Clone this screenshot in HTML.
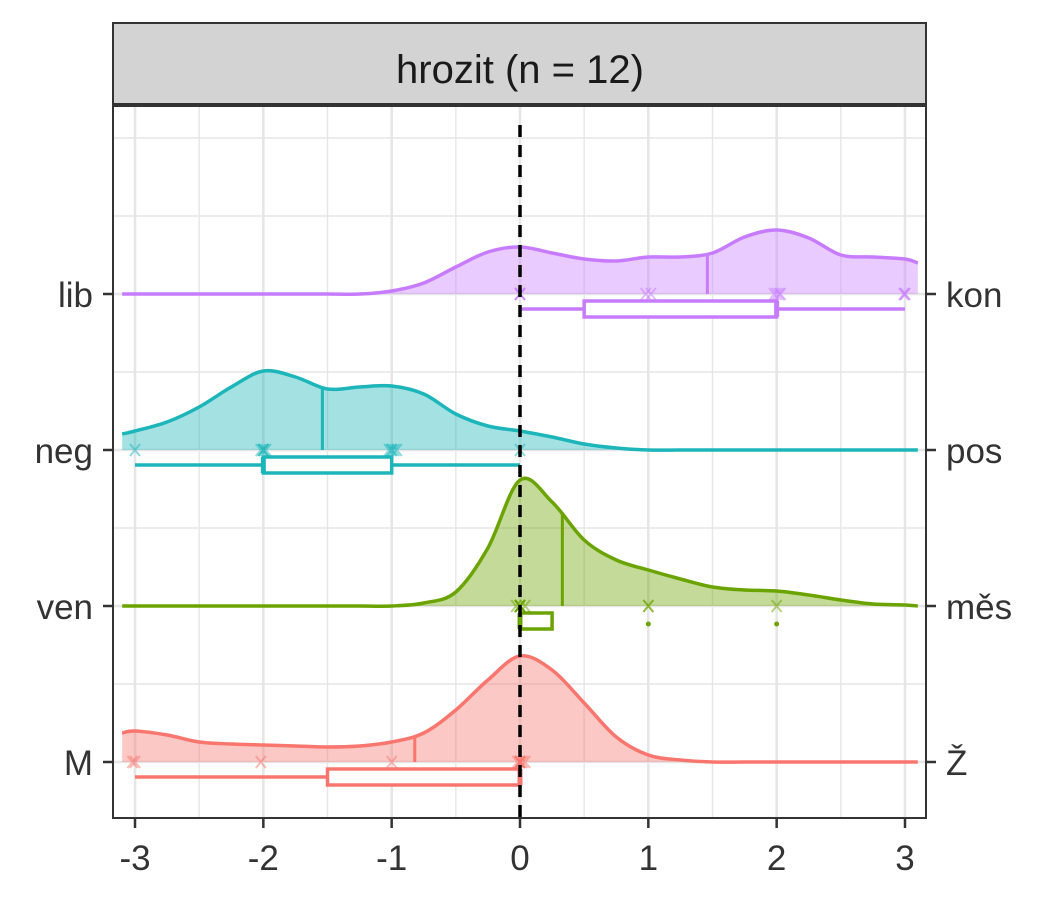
<!DOCTYPE html>
<html><head><meta charset="utf-8"><style>
body{margin:0;background:#fff;}
svg{display:block;font-family:"Liberation Sans",sans-serif;}
</style></head><body>
<svg id="chart" width="1050" height="900" viewBox="0 0 1050 900">
<rect x="113" y="23" width="813" height="81" fill="#d3d3d3" stroke="#333" stroke-width="2"/>
<text x="520" y="83" font-size="40" text-anchor="middle" fill="#1a1a1a">hrozit (n = 12)</text>
<g id="grid"></g>
<g id="marks"></g>
<rect x="113" y="106" width="813" height="712" fill="none" stroke="#333" stroke-width="2"/>
<g id="axes"></g>
</svg>
<script>
const xTicks = [-3,-2,-1,0,1,2,3];
const leftLabels = ["lib","neg","ven","M"];
const rightLabels = ["kon","pos","měs","Ž"];
const seriesColors = ["#C77CFF","#1CB5B9","#6BA300","#F8766D"];
const densGrid = [-3.1,-3,-2.75,-2.5,-2.25,-2,-1.75,-1.5,-1.25,-1,-0.75,-0.5,-0.25,0,0.25,0.5,0.75,1,1.25,1.5,1.75,2,2.25,2.5,2.75,3,3.1];
const densLib = [0,0,0,0,0,0,0,0,0,3,11,27,42,47,41,35,33,37,37,41,57,64,56,39,37,35,31];
const densNeg = [16,19,28,43,63,79,73,61,63,64,56,36,24,19,13,6,2,0,0,0,0,0,0,0,0,0,0];
const densVen = [0,0,0,0,0,0,0,0,0,0,3,14,58,126,104,66,46,36,27,19,16,15,11,6,2,1,0];
const densM = [29,31,27,20,18,17,16,15,16,20,29,52,82,106,92,59,25,7,2,0,0,0,0,0,0,0,0];
const medians = [1.46,-1.54,0.33,-0.82];
const ptsLib = [0,0,0.98,1.02,1.98,2.02,2.03,2,3,2.99,3,0];
const ptsNeg = [-3,-2.02,-2,-1.98,-2,-2,-1.02,-0.98,-1,-0.96,0,-1];
const ptsVen = [-0.03,0,0,0.04,0,0,0,0,1,1,2,0];
const ptsM = [-3.02,-3,-2.02,-1,0,0,0.02,-0.02,0,0.04,0,0];
const boxLo = [0,-3,0,-3];
const boxQ1 = [0.5,-2,0,-1.5];
const boxMed = [2,-2,0,0];
const boxQ3 = [2,-1,0.25,0];
const boxHi = [3,0,0.25,0];
const outliers = [[],[],[1,2],[]];

const NS="http://www.w3.org/2000/svg";
const X = v => 520 + 128.33*v;
const rowY = i => 294 + 156*i;
const DS = 1;
function mk(tag, attrs, parent){const e=document.createElementNS(NS,tag);for(const k in attrs)e.setAttribute(k,attrs[k]);parent.appendChild(e);return e;}
const grid=document.getElementById('grid'), marks=document.getElementById('marks'), axes=document.getElementById('axes');

for(let v=-3;v<=3.01;v+=0.5){
  const major = Math.abs(v-Math.round(v))<1e-6;
  const l=mk('line',{x1:X(v),x2:X(v),y1:106,y2:818,stroke:'#e6e6e6','stroke-width':major?2.6:1.4},grid);
  
  
}
[138,216,372,528,684].forEach(y=>{const l=mk('line',{x1:113,x2:926,y1:y,y2:y,stroke:'#e6e6e6','stroke-width':1.4},grid);
  
  });
for(let i=0;i<4;i++){const l=mk('line',{x1:113,x2:926,y1:rowY(i),y2:rowY(i),stroke:'#e6e6e6','stroke-width':2.6},grid);
  
  }

const dens=[densLib,densNeg,densVen,densM];
const pts=[ptsLib,ptsNeg,ptsVen,ptsM];
const names=["lib","neg","ven","m"];
function smoothPath(p){let d=`M${p[0][0]},${p[0][1]}`;for(let i=0;i<p.length-1;i++){const p0=p[i-1]||p[i],p1=p[i],p2=p[i+1],p3=p[i+2]||p2;
  d+=` C${p1[0]+(p2[0]-p0[0])/6},${p1[1]+(p2[1]-p0[1])/6} ${p2[0]-(p3[0]-p1[0])/6},${p2[1]-(p3[1]-p1[1])/6} ${p2[0]},${p2[1]}`;}return d;}
function interp(arr,v){for(let i=0;i<densGrid.length-1;i++){if(v>=densGrid[i]&&v<=densGrid[i+1]){const t=(v-densGrid[i])/(densGrid[i+1]-densGrid[i]);return arr[i]+t*(arr[i+1]-arr[i]);}}return 0;}
for(let i=0;i<4;i++){
  const c=seriesColors[i], b=rowY(i);
  const p=densGrid.map((v,k)=>[X(v),b-dens[i][k]*DS]);
  const line=smoothPath(p);
  const a=mk('path',{d:line+` L${X(3.1)},${b} L${X(-3.1)},${b} Z`,fill:c,'fill-opacity':0.4,stroke:'none'},marks);
  
  
  const l=mk('path',{d:line,fill:'none',stroke:c,'stroke-width':3.5},marks);
  
  
  const m=medians[i];
  const ml=mk('line',{x1:X(m),x2:X(m),y1:b,y2:b-interp(dens[i],m)*DS,stroke:c,'stroke-width':3},marks);
  
  
  pts[i].forEach(v=>{const x=X(v);
    const g=mk('path',{d:`M${x-5},${b-6}L${x+5},${b+6}M${x+5},${b-6}L${x-5},${b+6}`,stroke:c,'stroke-width':2,'stroke-opacity':0.5},marks);
    
    });
  const by=b+15;
  const w1=mk('line',{x1:X(boxLo[i]),x2:X(boxQ1[i]),y1:by,y2:by,stroke:c,'stroke-width':3.5},marks);
  
  
  const w2=mk('line',{x1:X(boxQ3[i]),x2:X(boxHi[i]),y1:by,y2:by,stroke:c,'stroke-width':3.5},marks);
  
  
  const r=mk('rect',{x:X(boxQ1[i]),y:by-8,width:Math.max(X(boxQ3[i])-X(boxQ1[i]),1),height:16,fill:'#fff',stroke:c,'stroke-width':3.5},marks);
  
  
  const md=mk('line',{x1:X(boxMed[i]),x2:X(boxMed[i]),y1:by-8,y2:by+8,stroke:c,'stroke-width':5},marks);
  
  
  outliers[i].forEach(v=>{const o=mk('circle',{cx:X(v),cy:by+3,r:2.5,fill:c},marks);
    
    });
}
const dl=mk('line',{x1:X(0),x2:X(0),y1:125,y2:818,stroke:'#000','stroke-width':3.5,'stroke-dasharray':'12,8'},marks);



xTicks.forEach(v=>{
  const t=mk('line',{x1:X(v),x2:X(v),y1:818,y2:828,stroke:'#333','stroke-width':2.5},axes);
  
  
  const tx=mk('text',{x:X(v),y:870,'font-size':35,'text-anchor':'middle',fill:'#333'},axes);
  tx.textContent=v;
  
  
});
for(let i=0;i<4;i++){
  const b=rowY(i);
  const t1=mk('line',{x1:103,x2:113,y1:b,y2:b,stroke:'#333','stroke-width':2.5},axes);
  
  
  const t2=mk('line',{x1:926,x2:936,y1:b,y2:b,stroke:'#333','stroke-width':2.5},axes);
  
  
  const l=mk('text',{x:93,y:b+13,'font-size':35,'text-anchor':'end',fill:'#333'},axes);
  l.textContent=leftLabels[i];
  
  
  const r=mk('text',{x:946,y:b+13,'font-size':35,'text-anchor':'start',fill:'#333'},axes);
  r.textContent=rightLabels[i];
  
  
}
</script>
</body></html>
